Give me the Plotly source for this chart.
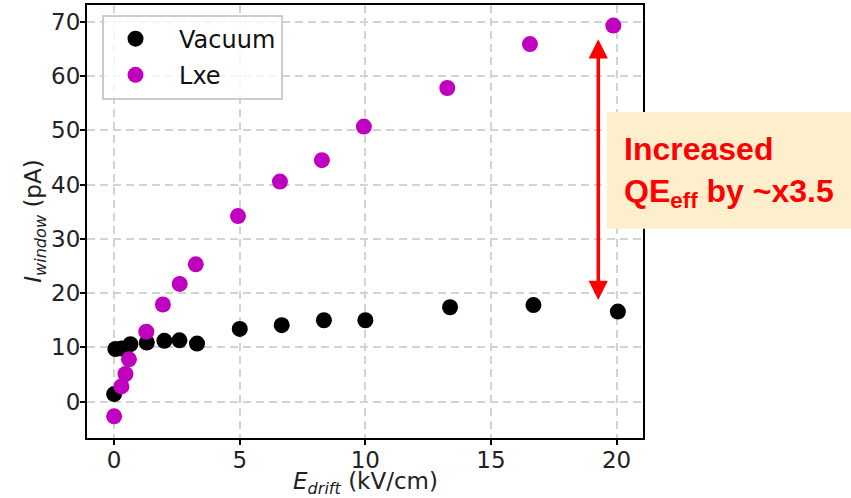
import plotly.graph_objects as go

# ---- data ----
vac_x = [0.0, 0.05, 0.3, 0.65, 1.3, 2.0, 2.6, 3.3, 5.0, 6.67, 8.35, 10.0, 13.37, 16.69, 20.05]
vac_y = [1.4, 9.7, 9.8, 10.6, 10.9, 11.2, 11.3, 10.7, 13.4, 14.1, 15.0, 15.0, 17.4, 17.8, 16.6]

lxe_x = [0.0, 0.29, 0.45, 0.59, 1.28, 1.94, 2.61, 3.25, 4.93, 6.6, 8.27, 9.94, 13.26, 16.55, 19.87]
lxe_y = [-2.7, 2.8, 5.1, 7.8, 12.9, 17.9, 21.7, 25.3, 34.2, 40.55, 44.5, 50.7, 57.8, 65.9, 69.3]

x_ticks = [0, 5, 10, 15, 20]
y_ticks = [0, 10, 20, 30, 40, 50, 60, 70]
x_range = [-1.08, 21.05]
y_range = [-6.7, 73.1]

arrow_x = 19.27
arrow_top = 66.8
arrow_bottom = 18.45

FONT = "DejaVu Sans"
SP = "\u2002"
TXT = "#222222"

fig = go.Figure()
fig.add_trace(go.Scatter(x=vac_x, y=vac_y, mode="markers", name=SP + "Vacuum", legendgroup="a",
                         marker=dict(color="black", size=16)))
fig.add_trace(go.Scatter(x=lxe_x, y=lxe_y, mode="markers", name=SP + "Lxe", legendgroup="b",
                         marker=dict(color="#bf00bf", size=16)))
# empty helper traces so the tick-mark-only axes are drawn
fig.add_trace(go.Scatter(x=[], y=[], xaxis="x2", yaxis="y", showlegend=False, hoverinfo="skip"))
fig.add_trace(go.Scatter(x=[], y=[], xaxis="x", yaxis="y2", showlegend=False, hoverinfo="skip"))

axis_common = dict(
    showline=True, linecolor="black", linewidth=2, mirror=True,
    ticks="", showgrid=True, gridcolor="#d3d3d3", gridwidth=2, griddash="8px,5px",
    zeroline=False, automargin=False,
    tickfont=dict(family=FONT, size=23, color=TXT),
)
fig.update_layout(
    xaxis=dict(range=x_range, tickvals=x_ticks, ticklabelstandoff=0, **axis_common),
    yaxis=dict(range=y_range, tickvals=y_ticks, ticklabelstandoff=0, **axis_common),
)

# axes that only carry the outward tick marks
tick_only = dict(ticks="outside", ticklen=6, tickwidth=1.5, tickcolor="black",
                 showticklabels=False, showgrid=False, showline=False, zeroline=False,
                 automargin=False)
fig.update_layout(
    xaxis2=dict(overlaying="x", anchor="y", side="bottom", range=x_range,
                tickvals=x_ticks, **tick_only),
    yaxis2=dict(overlaying="y", anchor="x", side="left", range=y_range,
                tickvals=y_ticks, **tick_only),
)

# axis titles
fig.add_annotation(xref="paper", yref="paper", x=0.5, y=-0.104, xanchor="center", yanchor="middle",
                   showarrow=False, text="<i>E</i><sub><i>drift</i></sub> (kV/cm)",
                   font=dict(family=FONT, size=23, color=TXT))
fig.add_annotation(xref="paper", yref="paper", x=-0.0935, y=0.4994, xanchor="center", yanchor="middle",
                   textangle=-90, showarrow=False, text="<i>I</i><sub><i>window</i></sub> (pA)",
                   font=dict(family=FONT, size=23, color=TXT))

# orange box
fig.add_shape(type="rect", xref="paper", yref="paper",
              x0=0.935, x1=1.374, y0=0.483, y1=0.753,
              fillcolor="#fdefcb", line=dict(width=0), layer="above")
fig.add_annotation(xref="paper", yref="paper", x=0.962, y=0.614,
                   xanchor="left", yanchor="middle", align="left", showarrow=False,
                   text="<b>Increased<br>QE<sub>eff</sub> by ~x3.5</b>",
                   font=dict(family="Liberation Sans", size=32, color="#ff0000"))

# double-headed arrow
fig.add_annotation(x=arrow_x, y=arrow_top, ax=arrow_x, ay=arrow_bottom,
                   xref="x", yref="y", axref="x", ayref="y", text="",
                   showarrow=True, arrowhead=2, startarrowhead=2, arrowside="end+start",
                   arrowsize=1.1, startarrowsize=1.1, arrowwidth=3.5, arrowcolor="#ff0000",
                   standoff=0, startstandoff=0)

fig.update_layout(
    width=851, height=498,
    margin=dict(l=87, r=208, t=5, b=60),
    plot_bgcolor="white", paper_bgcolor="white",
    font=dict(family=FONT, color=TXT),
    legend=dict(x=0.027, y=0.978, xanchor="left", yanchor="top",
                bgcolor="rgba(255,255,255,0.8)", bordercolor="#cccccc", borderwidth=2,
                font=dict(family=FONT, size=24, color="#111111"),
                itemwidth=53, tracegroupgap=2),
)

fig.write_html("out.html")
